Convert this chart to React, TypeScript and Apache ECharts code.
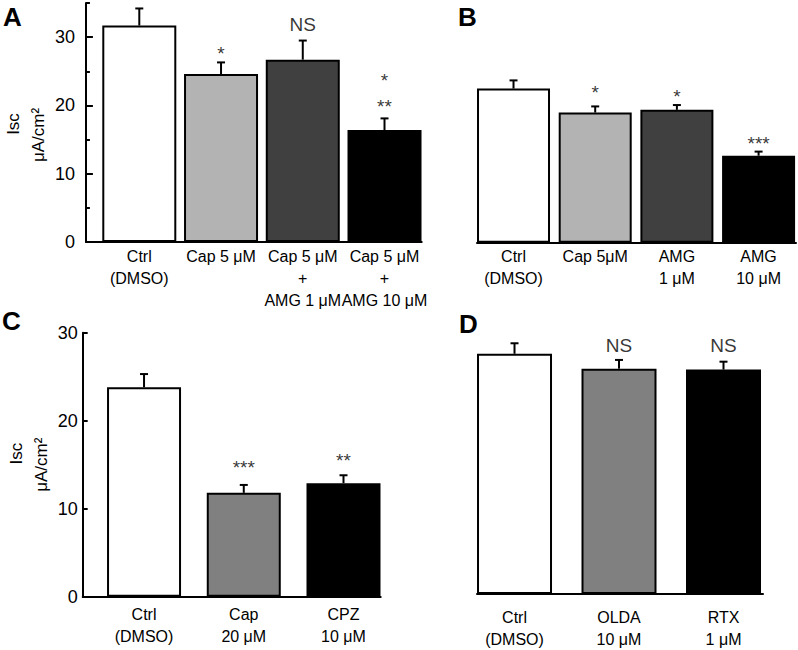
import React, { useEffect, useRef } from 'react';
import * as echarts from 'echarts';

// ---------- Panel A ----------
const catsA = ['Ctrl\n(DMSO)', 'Cap 5 μM', 'Cap 5 μM\n+\nAMG 1 μM', 'Cap 5 μM\n+\nAMG 10 μM'];
const meanA = [31.7, 24.6, 26.7, 16.4];
const semA = [2.5, 1.7, 2.8, 1.7];
const colorsA = ['#ffffff', '#b3b3b3', '#404040', '#000000'];
const sigA: [number, number, string][] = [[1, 27.6, '*'], [2, 31.8, 'NS'], [3, 23.7, '*'], [3, 19.9, '**']];
const yTicksA = [0, 10, 20, 30];
const yMinorTicksA = [5, 15, 25, 35];

// ---------- Panel B ----------
const catsB = ['Ctrl\n(DMSO)', 'Cap 5μM', 'AMG\n1 μM', 'AMG\n10 μM'];
const meanB = [22.5, 19.0, 19.4, 12.7];
const semB = [1.2, 0.9, 0.7, 0.6];
const colorsB = ['#ffffff', '#b3b3b3', '#404040', '#000000'];
const sigB: [number, number, string][] = [[1, 22.0, '*'], [2, 21.3, '*'], [3, 14.5, '***']];

// ---------- Panel C ----------
const catsC = ['Ctrl\n(DMSO)', 'Cap\n20 μM', 'CPZ\n10 μM'];
const meanC = [23.8, 11.8, 12.9];
const semC = [1.5, 0.9, 0.9];
const colorsC = ['#ffffff', '#808080', '#000000'];
const sigC: [number, number, string][] = [[1, 14.7, '***'], [2, 15.5, '**']];
const yTicksC = [0, 10, 20, 30];

// ---------- Panel D ----------
const catsD = ['Ctrl\n(DMSO)', 'OLDA\n10 μM', 'RTX\n1 μM'];
const meanD = [27.4, 25.7, 25.6];
const semD = [1.2, 1.0, 0.9];
const colorsD = ['#ffffff', '#808080', '#000000'];
const sigD: [number, number, string][] = [[1, 28.4, 'NS'], [2, 28.4, 'NS']];

const yName = '{i|Isc}\n{u|μA/cm²}';
const FONT = '"Liberation Sans", Arial, sans-serif';

type Layout = {
  left: number; top: number; width: number; height: number;
  xMin: number; xMax: number; yMax: number; barWidth: number; labelMargin: number;
};

const layouts: Layout[] = [
  { left: 82, top: 3, width: 339.7, height: 239, xMin: -0.653, xMax: 3.455, yMax: 35, barWidth: 74, labelMargin: 3 },
  { left: 477, top: 3, width: 319, height: 239.7, xMin: -0.447, xMax: 3.458, yMax: 35, barWidth: 73, labelMargin: 3 },
  { left: 82.7, top: 332.7, width: 298, height: 264, xMin: -0.615, xMax: 2.373, yMax: 30, barWidth: 74, labelMargin: 7 },
  { left: 477, top: 331, width: 286, height: 264, xMin: -0.359, xMax: 2.378, yMax: 30, barWidth: 75, labelMargin: 12 },
];

const nameRich = (shift: number) => ({
  i: { fontSize: 17, fontFamily: FONT, color: '#000', lineHeight: 25, padding: [0, 0, 0, shift] },
  u: { fontSize: 17, fontFamily: FONT, color: '#000', lineHeight: 25 },
});

function buildOption() {
  const panels = [
    { cats: catsA, mean: meanA, sem: semA, colors: colorsA, sig: sigA },
    { cats: catsB, mean: meanB, sem: semB, colors: colorsB, sig: sigB },
    { cats: catsC, mean: meanC, sem: semC, colors: colorsC, sig: sigC },
    { cats: catsD, mean: meanD, sem: semD, colors: colorsD, sig: sigD },
  ];

  const grid: any[] = [];
  const xAxis: any[] = [];
  const yAxis: any[] = [];
  const series: any[] = [];

  panels.forEach((p, k) => {
    const L = layouts[k];
    grid.push({ left: L.left, top: L.top, width: L.width, height: L.height, containLabel: false });
    xAxis.push({
      type: 'value', gridIndex: k, min: L.xMin, max: L.xMax,
      splitLine: { show: false },
      axisTick: { show: false },
      axisLine: { show: true, onZero: false, lineStyle: { color: '#000', width: 2 } },
      axisLabel: {
        customValues: p.cats.map((_, i) => i),
        formatter: (v: number) => p.cats[Math.round(v)] ?? '',
        color: '#000', fontSize: 16, lineHeight: 22, fontFamily: FONT,
        margin: L.labelMargin, verticalAlign: 'top', hideOverlap: false,
      },
    });
  });

  // y axes: 0 = A main, 1 = A minor ticks, 2 = B, 3 = C, 4 = D
  const yIndexForPanel = [0, 2, 3, 4];
  yAxis.push({
    type: 'value', gridIndex: 0, min: 0, max: layouts[0].yMax, interval: 10, position: 'left',
    splitLine: { show: false },
    axisLine: { show: true, onZero: false, lineStyle: { color: '#000', width: 2 } },
    axisTick: { show: true, inside: true, length: 7, customValues: yTicksA, lineStyle: { color: '#000', width: 2 } },
    axisLabel: { customValues: yTicksA, color: '#000', fontSize: 18, fontFamily: FONT, margin: 11 },
    name: yName, nameLocation: 'middle', nameRotate: 90, nameGap: 33,
    nameTextStyle: { color: '#000', fontSize: 17, lineHeight: 25, fontFamily: FONT, padding: [0, 25, 0, 0], rich: nameRich(22) },
  });
  yAxis.push({
    type: 'value', gridIndex: 0, min: 0, max: layouts[0].yMax, interval: 5, position: 'left', offset: 0,
    splitLine: { show: false },
    axisLine: { show: false, onZero: false },
    axisTick: { show: true, inside: true, length: 4, customValues: yMinorTicksA, lineStyle: { color: '#000', width: 2 } },
    axisLabel: { show: false },
  });
  yAxis.push({
    type: 'value', gridIndex: 1, min: 0, max: layouts[1].yMax, show: false, splitLine: { show: false },
    axisLine: { onZero: false },
  });
  yAxis.push({
    type: 'value', gridIndex: 2, min: 0, max: layouts[2].yMax, interval: 10, position: 'left',
    splitLine: { show: false },
    axisLine: { show: true, onZero: false, lineStyle: { color: '#000', width: 2 } },
    axisTick: { show: true, inside: true, length: 5, customValues: yTicksC, lineStyle: { color: '#000', width: 2 } },
    axisLabel: { customValues: yTicksC, color: '#000', fontSize: 18, fontFamily: FONT, margin: 5 },
    name: yName, nameLocation: 'middle', nameRotate: 90, nameGap: 24,
    nameTextStyle: { color: '#000', fontSize: 17, lineHeight: 25, fontFamily: FONT, rich: nameRich(22) },
  });
  yAxis.push({
    type: 'value', gridIndex: 3, min: 0, max: layouts[3].yMax, show: false, splitLine: { show: false },
    axisLine: { onZero: false },
  });

  panels.forEach((p, k) => {
    const L = layouts[k];
    const yi = yIndexForPanel[k];
    series.push({
      type: 'bar', xAxisIndex: k, yAxisIndex: yi, barWidth: L.barWidth, z: 2,
      data: p.mean.map((v, i) => ({
        value: [i, v],
        itemStyle: { color: p.colors[i], borderColor: '#000', borderWidth: 2 },
      })),
    });
    series.push({
      type: 'custom', xAxisIndex: k, yAxisIndex: yi, z: 3,
      data: p.mean.map((v, i) => [i, v, p.sem[i]]),
      encode: { x: 0, y: 1 },
      renderItem: (_params: any, api: any) => {
        const x = api.value(0);
        const m = api.value(1);
        const s = api.value(2);
        const p0 = api.coord([x, m]);
        const p1 = api.coord([x, m + s]);
        const st = { stroke: '#000', lineWidth: 2 };
        return {
          type: 'group',
          children: [
            { type: 'line', shape: { x1: p0[0], y1: p0[1], x2: p1[0], y2: p1[1] }, style: st },
            { type: 'line', shape: { x1: p1[0] - 4, y1: p1[1], x2: p1[0] + 4, y2: p1[1] }, style: st },
          ],
        };
      },
    });
    series.push({
      type: 'scatter', xAxisIndex: k, yAxisIndex: yi, z: 4,
      symbolSize: 1, itemStyle: { color: 'transparent' },
      data: p.sig.map(([i, y, t]) => ({
        value: [i, y], name: t,
        label: { fontSize: t === 'NS' ? 19 : 19 },
      })),
      label: {
        show: true, position: 'inside', formatter: '{b}', color: '#000',
        fontFamily: FONT, align: 'center', verticalAlign: 'middle',
      },
    });
  });

  const titleStyle = { color: '#000', fontSize: 26, fontWeight: 'bold', fontFamily: FONT };
  const title = [
    { text: 'A', left: 3, top: 4, padding: 0, textStyle: titleStyle },
    { text: 'B', left: 458, top: 4, padding: 0, textStyle: titleStyle },
    { text: 'C', left: 2, top: 308, padding: 0, textStyle: titleStyle },
    { text: 'D', left: 459, top: 311, padding: 0, textStyle: titleStyle },
  ];

  return {
    animation: false,
    backgroundColor: '#ffffff',
    title,
    grid,
    xAxis,
    yAxis,
    series,
  };
}

export default function App() {
  const ref = useRef<HTMLDivElement>(null);
  useEffect(() => {
    document.body.style.margin = '0';
    const chart = echarts.init(ref.current as HTMLDivElement, null, { renderer: 'svg' });
    chart.setOption(buildOption() as any);
    return () => chart.dispose();
  }, []);
  return <div ref={ref} style={{ width: 798, height: 650 }} />;
}
